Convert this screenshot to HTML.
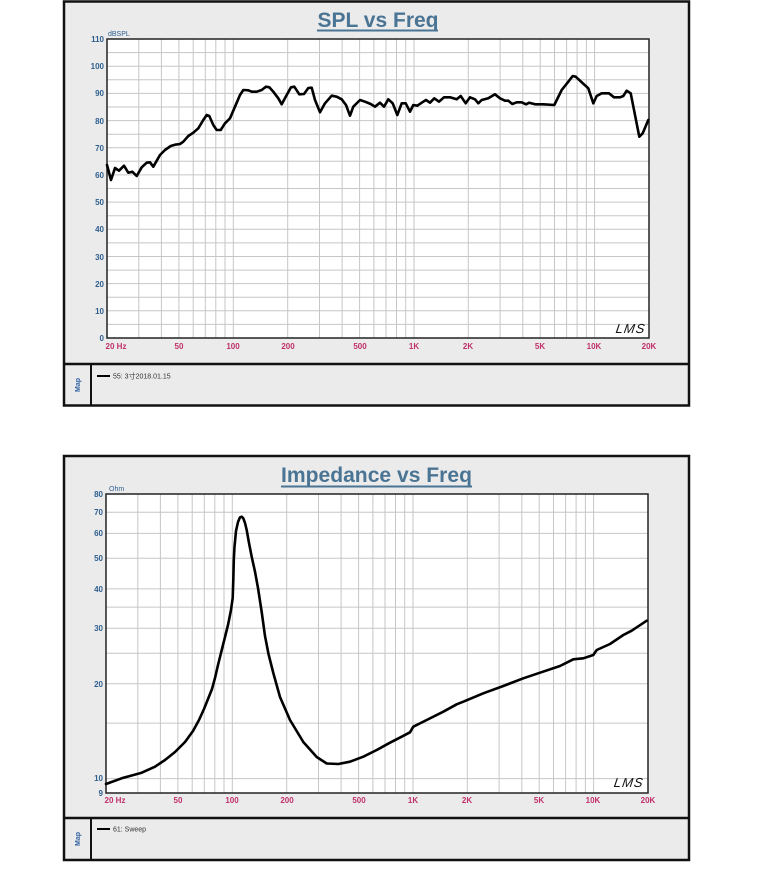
<!DOCTYPE html>
<html><head><meta charset="utf-8"><style>
html,body{margin:0;padding:0;background:#fff;}
svg{display:block;}
text{font-family:"Liberation Sans","Noto Sans CJK SC",sans-serif;}
</style></head><body>
<svg width="763" height="871" viewBox="0 0 763 871" xmlns="http://www.w3.org/2000/svg">
<rect x="0" y="0" width="763" height="871" fill="#fff"/>

<!-- ================= TOP CHART ================= -->
<rect x="64" y="1.5" width="625" height="404" fill="#ebebeb" stroke="#111" stroke-width="2.5"/>
<line x1="64" y1="364" x2="689" y2="364" stroke="#111" stroke-width="2.5"/>
<line x1="91" y1="364" x2="91" y2="405" stroke="#111" stroke-width="2"/>
<text x="378" y="27" text-anchor="middle" font-size="21" font-weight="bold" fill="#4a7494" textLength="121" lengthAdjust="spacingAndGlyphs">SPL vs Freq</text>
<line x1="317" y1="30.5" x2="438" y2="30.5" stroke="#4a7494" stroke-width="2"/>

<rect x="107" y="39" width="542" height="299" fill="#fff"/>
<g stroke="#c6c6c6" stroke-width="1">
<line x1="138.8" y1="39" x2="138.8" y2="338"/><line x1="161.4" y1="39" x2="161.4" y2="338"/><line x1="178.9" y1="39" x2="178.9" y2="338"/><line x1="193.2" y1="39" x2="193.2" y2="338"/><line x1="205.3" y1="39" x2="205.3" y2="338"/><line x1="215.8" y1="39" x2="215.8" y2="338"/><line x1="225" y1="39" x2="225" y2="338"/><line x1="233.3" y1="39" x2="233.3" y2="338"/>
<line x1="287.7" y1="39" x2="287.7" y2="338"/><line x1="319.5" y1="39" x2="319.5" y2="338"/><line x1="342.1" y1="39" x2="342.1" y2="338"/><line x1="359.6" y1="39" x2="359.6" y2="338"/><line x1="373.9" y1="39" x2="373.9" y2="338"/><line x1="386" y1="39" x2="386" y2="338"/><line x1="396.5" y1="39" x2="396.5" y2="338"/><line x1="405.7" y1="39" x2="405.7" y2="338"/><line x1="414" y1="39" x2="414" y2="338"/>
<line x1="468.3" y1="39" x2="468.3" y2="338"/><line x1="500.1" y1="39" x2="500.1" y2="338"/><line x1="522.8" y1="39" x2="522.8" y2="338"/><line x1="540.2" y1="39" x2="540.2" y2="338"/><line x1="554.5" y1="39" x2="554.5" y2="338"/><line x1="566.6" y1="39" x2="566.6" y2="338"/><line x1="577.1" y1="39" x2="577.1" y2="338"/><line x1="586.4" y1="39" x2="586.4" y2="338"/><line x1="594.6" y1="39" x2="594.6" y2="338"/>
<line x1="107" y1="52.6" x2="649" y2="52.6"/><line x1="107" y1="66.2" x2="649" y2="66.2"/><line x1="107" y1="79.8" x2="649" y2="79.8"/><line x1="107" y1="93.4" x2="649" y2="93.4"/><line x1="107" y1="107" x2="649" y2="107"/><line x1="107" y1="120.6" x2="649" y2="120.6"/><line x1="107" y1="134.2" x2="649" y2="134.2"/><line x1="107" y1="147.7" x2="649" y2="147.7"/><line x1="107" y1="161.3" x2="649" y2="161.3"/><line x1="107" y1="174.9" x2="649" y2="174.9"/><line x1="107" y1="188.5" x2="649" y2="188.5"/><line x1="107" y1="202.1" x2="649" y2="202.1"/><line x1="107" y1="215.7" x2="649" y2="215.7"/><line x1="107" y1="229.3" x2="649" y2="229.3"/><line x1="107" y1="242.9" x2="649" y2="242.9"/><line x1="107" y1="256.5" x2="649" y2="256.5"/><line x1="107" y1="270.1" x2="649" y2="270.1"/><line x1="107" y1="283.6" x2="649" y2="283.6"/><line x1="107" y1="297.2" x2="649" y2="297.2"/><line x1="107" y1="310.8" x2="649" y2="310.8"/><line x1="107" y1="324.4" x2="649" y2="324.4"/>
</g>
<rect x="107" y="39" width="542" height="299" fill="none" stroke="#222" stroke-width="1.5"/>

<g font-size="8" font-weight="bold" fill="#2f5f8f" text-anchor="end">
<text x="104" y="42">110</text><text x="104" y="69">100</text><text x="104" y="96">90</text><text x="104" y="124">80</text><text x="104" y="151">70</text><text x="104" y="178">60</text><text x="104" y="205">50</text><text x="104" y="232">40</text><text x="104" y="260">30</text><text x="104" y="287">20</text><text x="104" y="314">10</text><text x="104" y="341">0</text>
</g>
<text x="108" y="36" font-size="7" fill="#2f5f8f">dBSPL</text>
<g font-size="8" font-weight="bold" fill="#c0306a" text-anchor="middle">
<text x="116" y="349">20  Hz</text><text x="179" y="349">50</text><text x="233" y="349">100</text><text x="288" y="349">200</text><text x="360" y="349">500</text><text x="414" y="349">1K</text><text x="468" y="349">2K</text><text x="540" y="349">5K</text><text x="594" y="349">10K</text><text x="649" y="349">20K</text>
</g>
<text x="615" y="333" font-family="Liberation Serif" font-style="italic" font-size="13" fill="#111" letter-spacing="1" transform="skewX(-8) translate(47,0)">LMS</text>

<polyline fill="none" stroke="#000" stroke-width="2.6" stroke-linejoin="round" stroke-linecap="round" points="107,165 111,180 115,168 119,170.7 124,165.7 128.3,172.7 132.3,171.7 136.7,176 141.7,167.3 146.7,162.7 150,162.3 153.3,166.7 160,155 165,150 170.7,146 175,144.7 180,144 183.3,141.7 188.3,136 193.3,132.7 198.3,128.3 203.3,120 206.7,115 209.3,116 213.3,125 216.7,130 220.7,130 225,123.3 230,118.3 235,106.7 240,95 243.3,90 248.3,90.3 251.7,91.7 256.7,91.7 261.7,90 266,86.7 269.3,87.3 273.3,91.7 278.3,98.3 281.7,104.3 286.7,95 291,87.3 294.3,86.7 299.3,94.3 304,94 308.3,88 311.7,87.7 315,100 320,112.3 325,103.3 331.7,95.7 336.7,96.7 341.7,99.3 346,105 350,115.7 353.3,106.7 360,100 365,101.7 370.7,104 375,106.7 380,102.7 384,106.7 388.3,99.3 392.7,103.3 397.3,115 401.7,103.3 405.7,103.3 410,111.7 413.3,105 417.3,105.7 421.7,102.7 426,100 430,102.7 434.3,98.3 439,101.7 444,97.3 450,97.3 456.7,99.3 460.7,96 465.7,103.3 470,97.3 475,99.3 478.3,103.3 481.7,100 488.3,98.3 495,94.3 500,98.3 505,100.7 508.3,100.7 512.3,104 516.7,102.3 521.7,102.3 526,104.3 529.3,102.7 535,104.3 543.3,104.3 554.3,105 561.7,90 568.3,81.7 572.7,76 575.7,76.7 580,80.7 588.3,88.3 593.3,103.3 596.7,96 601.7,93.3 609,93.3 614,97.3 620,97.3 623.3,96 626.7,90.7 630.7,93.3 639.3,136.7 642.7,133.3 648.3,120"/>

<text transform="translate(80,385) rotate(-90)" text-anchor="middle" font-size="7" font-weight="bold" fill="#3060a0">Map</text>
<line x1="97" y1="376" x2="110" y2="376" stroke="#000" stroke-width="2"/>
<text x="113" y="378.5" font-size="7" fill="#333">55: 3寸2018.01.15</text>

<!-- ================= BOTTOM CHART ================= -->
<rect x="64" y="456" width="625" height="404" fill="#ebebeb" stroke="#111" stroke-width="2.5"/>
<line x1="64" y1="818" x2="689" y2="818" stroke="#111" stroke-width="2.5"/>
<line x1="91" y1="818" x2="91" y2="860" stroke="#111" stroke-width="2"/>
<text x="376.5" y="482" text-anchor="middle" font-size="21" font-weight="bold" fill="#4a7494" textLength="191" lengthAdjust="spacingAndGlyphs">Impedance vs Freq</text>
<line x1="281" y1="486.5" x2="472" y2="486.5" stroke="#4a7494" stroke-width="2"/>

<rect x="106" y="494" width="542" height="299" fill="#fff"/>
<g stroke="#c6c6c6" stroke-width="1">
<g transform="translate(-1,0)">
<line x1="138.8" y1="494" x2="138.8" y2="793"/><line x1="161.4" y1="494" x2="161.4" y2="793"/><line x1="178.9" y1="494" x2="178.9" y2="793"/><line x1="193.2" y1="494" x2="193.2" y2="793"/><line x1="205.3" y1="494" x2="205.3" y2="793"/><line x1="215.8" y1="494" x2="215.8" y2="793"/><line x1="225" y1="494" x2="225" y2="793"/><line x1="233.3" y1="494" x2="233.3" y2="793"/>
<line x1="287.7" y1="494" x2="287.7" y2="793"/><line x1="319.5" y1="494" x2="319.5" y2="793"/><line x1="342.1" y1="494" x2="342.1" y2="793"/><line x1="359.6" y1="494" x2="359.6" y2="793"/><line x1="373.9" y1="494" x2="373.9" y2="793"/><line x1="386" y1="494" x2="386" y2="793"/><line x1="396.5" y1="494" x2="396.5" y2="793"/><line x1="405.7" y1="494" x2="405.7" y2="793"/><line x1="414" y1="494" x2="414" y2="793"/>
<line x1="468.3" y1="494" x2="468.3" y2="793"/><line x1="500.1" y1="494" x2="500.1" y2="793"/><line x1="522.8" y1="494" x2="522.8" y2="793"/><line x1="540.2" y1="494" x2="540.2" y2="793"/><line x1="554.5" y1="494" x2="554.5" y2="793"/><line x1="566.6" y1="494" x2="566.6" y2="793"/><line x1="577.1" y1="494" x2="577.1" y2="793"/><line x1="586.4" y1="494" x2="586.4" y2="793"/><line x1="594.6" y1="494" x2="594.6" y2="793"/>
</g>
<line x1="106" y1="512.3" x2="648" y2="512.3"/><line x1="106" y1="533.4" x2="648" y2="533.4"/><line x1="106" y1="558.3" x2="648" y2="558.3"/><line x1="106" y1="588.9" x2="648" y2="588.9"/><line x1="106" y1="607.1" x2="648" y2="607.1"/><line x1="106" y1="628.2" x2="648" y2="628.2"/><line x1="106" y1="653.2" x2="648" y2="653.2"/><line x1="106" y1="683.7" x2="648" y2="683.7"/><line x1="106" y1="723.1" x2="648" y2="723.1"/><line x1="106" y1="778.6" x2="648" y2="778.6"/>
</g>
<rect x="106" y="494" width="542" height="299" fill="none" stroke="#222" stroke-width="1.5"/>

<g font-size="8" font-weight="bold" fill="#2f5f8f" text-anchor="end">
<text x="103" y="497">80</text><text x="103" y="515">70</text><text x="103" y="536">60</text><text x="103" y="561">50</text><text x="103" y="592">40</text><text x="103" y="631">30</text><text x="103" y="687">20</text><text x="103" y="781">10</text><text x="103" y="796">9</text>
</g>
<text x="109" y="491" font-size="7" fill="#2f5f8f">Ohm</text>
<g font-size="8" font-weight="bold" fill="#c0306a" text-anchor="middle">
<text x="115" y="803">20  Hz</text><text x="178" y="803">50</text><text x="232" y="803">100</text><text x="287" y="803">200</text><text x="359" y="803">500</text><text x="413" y="803">1K</text><text x="467" y="803">2K</text><text x="539" y="803">5K</text><text x="593" y="803">10K</text><text x="648" y="803">20K</text>
</g>
<text x="614" y="787" font-family="Liberation Serif" font-style="italic" font-size="13" fill="#111" letter-spacing="1" transform="skewX(-8) translate(110,0)">LMS</text>

<polyline fill="none" stroke="#000" stroke-width="2.6" stroke-linejoin="round" stroke-linecap="round" points="106,784 121.7,778.3 141.7,772.7 155,766.7 165,760 175,752 185,742 193,731 199,720 204,709 208,699 212,689 215,678 218,665 223,645 228,625 231,610 232.7,598 233.3,580 233.8,560 234.5,546.7 236,531 238,522 240,517.3 241.7,516.7 243.3,518.3 245,523 246.7,530 249,543 251.7,556.7 255,571.7 258,588 261.7,612 265,636 268.5,654 273.3,673 280,697 290,720 303.3,742 316.7,757 326.7,763.5 338.3,764 350,761.7 363.3,756.7 376.7,750 390,742.7 401.7,736.7 410,732.3 413.3,726.7 426.7,720 443.3,711.7 456.7,704.3 463.3,701.7 483.3,693.3 503.3,686 523.3,678.3 540,672.7 560,666 573.3,659.3 583.3,658.3 593.3,655 596.7,650 610,644 623.3,635 631.7,630.7 646.7,620.7"/>

<text transform="translate(80,839) rotate(-90)" text-anchor="middle" font-size="7" font-weight="bold" fill="#3060a0">Map</text>
<line x1="97" y1="829" x2="110" y2="829" stroke="#000" stroke-width="2"/>
<text x="113" y="831.5" font-size="7" fill="#333">61: Sweep</text>
</svg>
</body></html>
